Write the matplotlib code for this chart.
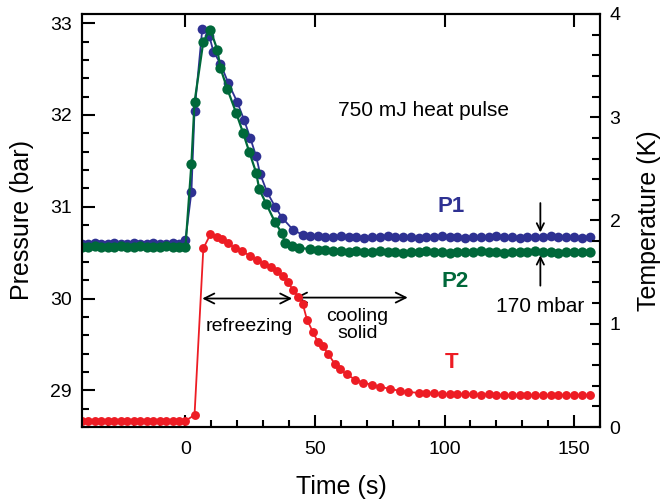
import matplotlib
matplotlib.use('Agg')
import matplotlib.pyplot as plt
from matplotlib.ticker import MultipleLocator
import numpy as np

plt.rcParams['font.family'] = ['Liberation Sans', 'DejaVu Sans']

# pressure gauge 1 (bar)
t_p1 = [-40, -37.5, -35, -32.5, -30, -27.5, -25, -22.5, -20, -17.5, -15, -12.5, -10, -7.5, -5, -2.5,
        0, 2.3, 3.5, 6.5, 9.2, 10.8, 13.5, 16.5, 20, 22.7, 25, 27.3, 28.8, 31.5, 34.6, 37.3, 41.5, 45.4]
p1 = [30.59, 30.59, 30.60, 30.59, 30.59, 30.60, 30.59, 30.59, 30.60, 30.59, 30.59, 30.60, 30.59, 30.59, 30.60, 30.59,
      30.64, 31.16, 32.04, 32.94, 32.86, 32.69, 32.56, 32.35, 32.14, 31.94, 31.75, 31.55, 31.36, 31.16, 31.00, 30.88, 30.75, 30.69]

# pressure gauge 2 (bar)
t_p2 = [-40, -37.5, -35, -32.5, -30, -27.5, -25, -22.5, -20, -17.5, -15, -12.5, -10, -7.5, -5, -2.5,
        0, 2.3, 3.5, 6.9, 9.6, 12.3, 13.5, 16.2, 19.6, 22.3, 24.6, 27.3, 28.5, 31.2, 34.6, 37.3, 38.5, 41.0, 44.0]
p2 = [30.56, 30.56, 30.57, 30.56, 30.56, 30.56, 30.57, 30.56, 30.56, 30.57, 30.56, 30.56, 30.56, 30.57, 30.56, 30.56,
      30.56, 31.47, 32.14, 32.80, 32.93, 32.71, 32.51, 32.28, 32.02, 31.80, 31.60, 31.37, 31.19, 31.03, 30.83, 30.71, 30.60, 30.57, 30.55]

# settled part of both pressure traces
t_ptail = np.arange(48, 158, 3.0)
p1_tail = [30.68, 30.68, 30.67, 30.67, 30.68, 30.67, 30.67, 30.66, 30.67, 30.67,
           30.68, 30.67, 30.67, 30.67, 30.66, 30.67, 30.67, 30.68, 30.67, 30.67,
           30.66, 30.67, 30.67, 30.67, 30.68, 30.67, 30.67, 30.66, 30.67, 30.67,
           30.67, 30.68, 30.67, 30.67, 30.67, 30.66, 30.67]
p2_tail = [30.54, 30.53, 30.53, 30.52, 30.52, 30.51, 30.52, 30.51, 30.51, 30.52,
           30.51, 30.51, 30.50, 30.51, 30.51, 30.52, 30.51, 30.51, 30.50, 30.51,
           30.51, 30.51, 30.52, 30.51, 30.51, 30.50, 30.51, 30.51, 30.51, 30.52,
           30.51, 30.51, 30.50, 30.51, 30.51, 30.51, 30.51]

# temperature (K)
t_T = [-40, -37.5, -35, -32.5, -30, -27.5, -25, -22.5, -20, -17.5, -15, -12.5, -10, -7.5, -5, -2.5, 0,
       3.5, 6.9, 9.6, 12.0, 14.2, 16.5, 19.2, 22.0, 24.8, 27.5, 30.3, 33.0, 35.5, 37.5, 39.5, 41.5, 43.5,
       45.3, 46.9, 49.2, 51.2, 53.1, 55.0, 57.7, 59.6, 62.3, 65.4, 68.5, 71.9, 75.0, 78.8, 82.7, 86.0]
T = [0.058, 0.058, 0.058, 0.057, 0.058, 0.058, 0.058, 0.058, 0.058, 0.057, 0.058, 0.058, 0.058, 0.058, 0.058, 0.058, 0.060,
     0.116, 1.73, 1.865, 1.845, 1.82, 1.78, 1.73, 1.70, 1.66, 1.62, 1.58, 1.55, 1.51, 1.46, 1.40, 1.33, 1.26,
     1.19, 1.04, 0.92, 0.82, 0.78, 0.71, 0.61, 0.56, 0.51, 0.46, 0.43, 0.41, 0.39, 0.37, 0.35, 0.34]
t_Ttail = np.arange(90, 158, 3.0)
T_tail = [0.33, 0.33, 0.33, 0.32, 0.32, 0.32, 0.32, 0.32, 0.31, 0.32, 0.31, 0.31,
          0.31, 0.31, 0.31, 0.31, 0.31, 0.31, 0.31, 0.31, 0.31, 0.31, 0.31]

blue = '#2e3192'
green = '#00683a'
red = '#ed1c24'

fig = plt.figure(figsize=(6.6, 5), dpi=100)
ax = fig.add_axes([0.124, 0.146, 0.785, 0.826])
ax2 = ax.twinx()

ax.plot(list(t_p1) + list(t_ptail), p1 + p1_tail, '-o', color=blue, lw=1.3, ms=7, mew=0)
ax.plot(list(t_p2) + list(t_ptail), p2 + p2_tail, '-o', color=green, lw=1.6, ms=7.4, mew=0)
ax2.plot(list(t_T) + list(t_Ttail), T + T_tail, '-o', color=red, lw=1.3, ms=6.4, mew=0)

ax.set_xlim(-40, 160)
ax.set_ylim(28.6, 33.1)
ax2.set_ylim(0, 4)

ax.xaxis.set_major_locator(MultipleLocator(50))
ax.xaxis.set_minor_locator(MultipleLocator(10))
ax.yaxis.set_major_locator(MultipleLocator(1))
ax.yaxis.set_minor_locator(MultipleLocator(0.2))
ax2.yaxis.set_major_locator(MultipleLocator(1))
ax2.yaxis.set_minor_locator(MultipleLocator(0.2))

ax.tick_params(which='both', direction='in', width=1.5, labelsize=14, top=True)
ax.tick_params(which='major', length=9, pad=7)
ax.tick_params(axis='x', which='major', pad=10)
ax.tick_params(which='minor', length=5, top=False)
ax2.tick_params(which='both', direction='in', width=1.5, labelsize=14)
ax2.tick_params(which='major', length=7, pad=7)
ax2.tick_params(which='minor', length=6)
for a in (ax, ax2):
    for s in a.spines.values():
        s.set_linewidth(1.5)

ax.set_xlabel('Time (s)', fontsize=18, labelpad=12)
ax.set_ylabel('Pressure (bar)', fontsize=18, labelpad=12)
ax2.set_ylabel('Temperature (K)', fontsize=18, labelpad=12)

ax.text(58.8, 32.05, '750 mJ heat pulse', fontsize=15, va='center', ha='left')
ax.text(102.5, 31.0, 'P1', fontsize=16, fontweight='bold', color=blue, ha='center', va='center')
ax.text(104, 30.18, 'P2', fontsize=16, fontweight='bold', color=green, ha='center', va='center')
ax.text(102.8, 29.3, 'T', fontsize=16, fontweight='bold', color=red, ha='center', va='center')
ax.text(137, 29.91, '170 mbar', fontsize=15, ha='center', va='center')
ax.text(24.6, 29.69, 'refreezing', fontsize=14, ha='center', va='center')
ax.text(66.3, 29.71, 'cooling\nsolid', fontsize=14, ha='center', va='center', linespacing=1.05)

arr = dict(arrowstyle='<->', color='black', lw=1.3, mutation_scale=18, shrinkA=0, shrinkB=0)
ax.annotate('', xy=(6.5, 30.0), xytext=(41.2, 30.0), arrowprops=arr)
ax.annotate('', xy=(42.3, 30.01), xytext=(85.8, 30.01), arrowprops=arr)
one = dict(arrowstyle='->', color='black', lw=1.3, mutation_scale=13, shrinkA=0, shrinkB=0)
ax.annotate('', xy=(137, 30.72), xytext=(137, 31.04), arrowprops=one)
ax.annotate('', xy=(137, 30.47), xytext=(137, 30.14), arrowprops=one)

fig.savefig('out.png', dpi=100)
